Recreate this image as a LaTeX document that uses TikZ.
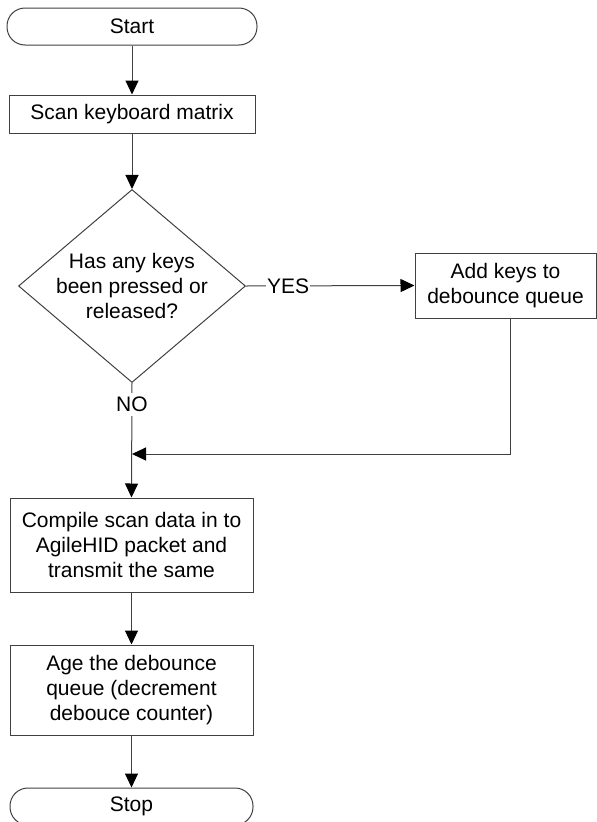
\documentclass[tikz,border=0pt]{standalone}
\usepackage{fontspec}
\setmainfont{Liberation Sans}
\usetikzlibrary{shapes.geometric,arrows.meta,calc}
\begin{document}
\begin{tikzpicture}[x=1pt,y=-1pt,
  every node/.style={font=\fontsize{21}{25}\selectfont},
  line/.style={draw=black!75, line width=1pt},
  proc/.style={line, rectangle, align=center, inner sep=0pt},
  term/.style={line, rectangle, rounded corners=18pt, inner sep=0pt},
  decision/.style={line, diamond, inner sep=0pt},
  flow/.style={line, -{Triangle[length=14pt,width=13pt,color=black,fill=black]}},
  tag/.style={fill=white, inner xsep=1pt, inner ysep=4pt}
]
\useasboundingbox (0,0) rectangle (597,822);

% process steps
\node[term, minimum width=250pt, minimum height=37pt] (start) at (132,26.5) {Start};
\node[proc, minimum width=246pt, minimum height=38pt] (scan) at (132,114) {Scan keyboard matrix};
\node[decision, minimum width=227pt, minimum height=193pt] (dec) at (132,286) {};
\node[align=center] (dectext) at (dec) {Has any keys\\been pressed or\\released?};
\node[proc, minimum width=181pt, minimum height=65pt] (add) at (505.5,285.5) {Add keys to\\debounce queue};
\coordinate (merge) at (132,454);
\node[proc, minimum width=243pt, minimum height=94pt] (compile) at (131.5,545) {Compile scan data in to\\AgileHID packet and\\transmit the same};
\node[proc, minimum width=243pt, minimum height=90pt] (age) at (131.5,690) {Age the debounce\\queue (decrement\\debouce counter)};
\node[term, minimum width=243pt, minimum height=37pt] (stop) at (131.5,806.5) {Stop};

% connectors
\draw[flow] (start) -- (scan);
\draw[flow] (scan) -- (dec);
\draw[flow] (dec.east) -- node[tag, pos=0.25] {YES} (add.west);
\draw[flow] (dec.south) -- node[tag, pos=0.19] {NO} (compile.north);
\draw[flow] ([xshift=5pt]add.south) |- (merge);
\draw[flow] (compile) -- (age);
\draw[flow] (age) -- (stop);
\end{tikzpicture}
\end{document}
